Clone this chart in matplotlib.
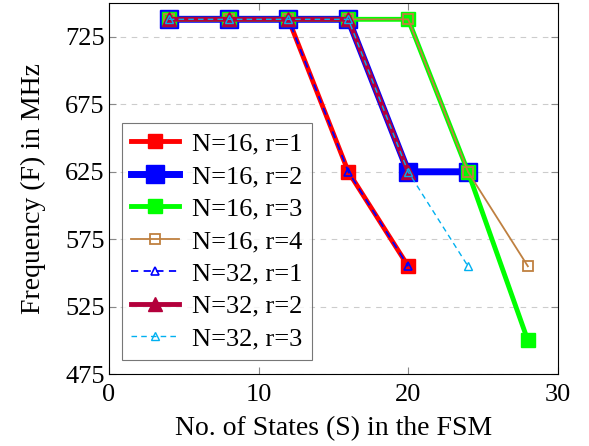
import numpy as np
import matplotlib
matplotlib.use('Agg')
import matplotlib.pyplot as plt

plt.rcParams.update({
    'font.family': 'serif', 'font.serif': ['Liberation Serif'],
    'mathtext.fontset': 'stix',
    'font.size': 20,
    'xtick.direction': 'in', 'ytick.direction': 'in',
    'xtick.top': True, 'ytick.right': True,
})

# data
s_n16_r1 = [4, 8, 12, 16, 20]
f_n16_r1 = [738, 738, 738, 625, 555]
s_n16_r2 = [4, 8, 12, 16, 20, 24]
f_n16_r2 = [738, 738, 738, 738, 625, 625]
s_n16_r3 = [4, 8, 12, 16, 20, 24, 28]
f_n16_r3 = [738, 738, 738, 738, 738, 625, 500]
s_n16_r4 = [4, 8, 12, 16, 20, 24, 28]
f_n16_r4 = [738, 738, 738, 738, 738, 625, 555]
s_n32_r1 = [4, 8, 12, 16, 20]
f_n32_r1 = [738, 738, 738, 625, 555]
s_n32_r2 = [4, 8, 12, 16, 20]
f_n32_r2 = [738, 738, 738, 738, 625]
s_n32_r3 = [4, 8, 12, 16, 20, 24]
f_n32_r3 = [738, 738, 738, 738, 625, 555]

x_ticks = [0, 10, 20, 30]
y_ticks = [475, 525, 575, 625, 675, 725]

fig = plt.figure(figsize=(5.89, 4.46), dpi=100)
ax = fig.add_axes([0.185, 0.161, 0.762, 0.832])

ax.plot(s_n16_r1, f_n16_r1, color='#ff0000', lw=3.5, marker='s', ms=10,
        label='N=16, r=1')
ax.plot(s_n16_r2, f_n16_r2, color='#0000ff', lw=5, marker='s', ms=13,
        label='N=16, r=2')
ax.plot(s_n16_r3, f_n16_r3, color='#00ff00', lw=3.5, marker='s', ms=10,
        label='N=16, r=3')
ax.plot(s_n16_r4, f_n16_r4, color='#bf8040', lw=1.3, marker='s', ms=7,
        mfc='none', mew=1.3, label='N=16, r=4')
ax.plot(s_n32_r1, f_n32_r1, color='#0000ff', lw=1.3, ls=(0, (4, 3)),
        marker='^', ms=6, mfc='none', mew=1.2, label='N=32, r=1')
ax.plot(s_n32_r2, f_n32_r2, color='#b3003b', lw=3.5, marker='^', ms=10,
        label='N=32, r=2')
ax.plot(s_n32_r3, f_n32_r3, color='#00b0f0', lw=1.0, ls=(0, (4, 3)),
        marker='^', ms=6, mfc='none', mew=1.0, label='N=32, r=3')

ax.set_xlim(0, 30)
ax.set_ylim(475, 750)
ax.set_xticks(x_ticks)
ax.set_yticks(y_ticks)
ax.tick_params(labelsize=19, color='#888888', length=5)
ax.tick_params(axis='x', pad=7)
ax.tick_params(axis='y', pad=3)
ax.yaxis.grid(True, ls=(0, (5, 5)), color='#cccccc', lw=0.8)
ax.set_xlabel('No. of States (S) in the FSM', labelpad=7)
ax.set_ylabel('Frequency (F) in MHz', labelpad=14)

leg = ax.legend(loc='upper left', bbox_to_anchor=(0.029, 0.677), fontsize=19,
                fancybox=False, edgecolor='#555555', handlelength=1.8,
                labelspacing=0.34, borderpad=0.35, handletextpad=0.5,
                borderaxespad=0)
leg.get_frame().set_linewidth(0.8)

fig.savefig('out.png')
